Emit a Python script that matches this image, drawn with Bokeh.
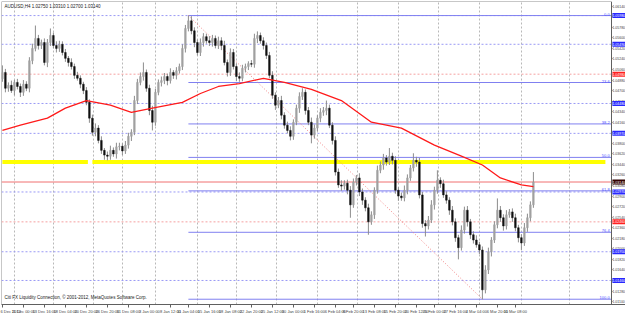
from bokeh.plotting import figure
from bokeh.models import FixedTicker, Label, PrintfTickFormatter
from bokeh.core.properties import value
from bokeh.embed import file_html
from bokeh.resources import INLINE

# ---------------- data (prices in pips above 1.0000) ----------------
symbol = "AUDUSD,H4"
first_open_pips = 490
close_pips = [
    501, 474, 479, 470, 484, 477, 467, 481, 474, 521,
    542, 559, 547, 552, 518, 552, 564, 547, 542, 549,
    535, 525, 518, 511, 496, 491, 481, 470, 450, 423,
    399, 406, 385, 368, 360, 358, 368, 362, 374, 375,
    367, 377, 392, 399, 453, 484, 494, 501, 474, 436,
    416, 467, 484, 487, 494, 487, 501, 496, 504, 511,
    542, 576, 589, 572, 552, 535, 552, 562, 555, 552,
    559, 547, 555, 547, 518, 501, 535, 511, 494, 491,
    508, 511, 516, 515, 559, 564, 555, 547, 530, 496,
    462, 445, 453, 428, 411, 402, 392, 416, 440, 460,
    467, 436, 416, 394, 406, 423, 433, 436, 440, 411,
    385, 331, 309, 307, 312, 300, 275, 314, 321, 297,
    283, 270, 246, 258, 300, 334, 343, 355, 348, 358,
    351, 300, 290, 287, 300, 321, 338, 351, 348, 292,
    243, 239, 249, 275, 300, 317, 311, 292, 283, 266,
    246, 219, 202, 232, 266, 246, 224, 215, 207, 198,
    130, 164, 195, 215, 241, 266, 253, 239, 258, 263,
    253, 236, 219, 210, 236, 253, 275, 314,
]
upper_wick = [
    12, 6, 5, 8, 4, 6, 5, 7, 5, 6,
    8, 22, 6, 5, 7, 6, 12, 5, 7, 6,
    5, 6, 4, 7, 5, 6, 5, 4, 6, 5,
    6, 8, 5, 7, 4, 6, 8, 5, 7, 6,
    5, 7, 6, 5, 8, 6, 7, 17, 5, 6,
    8, 6, 5, 7, 6, 5, 7, 4, 6, 5,
    7, 6, 9, 8, 6, 5, 7, 6, 5, 8,
    6, 5, 7, 6, 8, 5, 7, 6, 5, 7,
    6, 5, 4, 6, 8, 7, 5, 6, 5, 6,
    7, 5, 6, 8, 5, 6, 7, 5, 6, 7,
    7, 5, 6, 8, 6, 5, 7, 6, 13, 6,
    5, 7, 6, 8, 5, 6, 7, 6, 5, 8,
    6, 5, 7, 6, 5, 8, 6, 7, 5, 14,
    6, 7, 5, 6, 8, 6, 5, 12, 6, 7,
    5, 6, 7, 8, 6, 17, 5, 7, 6, 5,
    7, 6, 5, 8, 6, 7, 5, 6, 8, 5,
    6, 8, 7, 5, 6, 20, 7, 6, 8, 5,
    6, 7, 5, 6, 8, 7, 6, 17,
]
lower_wick = [
    5, 7, 6, 4, 8, 5, 8, 6, 5, 7,
    6, 5, 7, 6, 5, 8, 6, 5, 7, 6,
    5, 6, 7, 5, 6, 4, 7, 6, 5, 8,
    6, 7, 5, 6, 8, 7, 6, 5, 8, 6,
    7, 5, 6, 8, 5, 6, 5, 7, 6, 8,
    14, 6, 5, 7, 6, 8, 5, 6, 7, 5,
    6, 7, 5, 6, 8, 5, 6, 7, 5, 6,
    7, 5, 6, 8, 5, 7, 6, 5, 8, 6,
    5, 7, 6, 5, 6, 8, 5, 7, 6, 5,
    6, 8, 5, 7, 6, 5, 7, 6, 5, 8,
    6, 7, 5, 14, 6, 5, 7, 6, 8, 5,
    7, 6, 5, 8, 6, 7, 22, 5, 6, 7,
    8, 6, 22, 5, 7, 6, 5, 8, 6, 5,
    7, 6, 8, 5, 6, 7, 5, 6, 8, 6,
    7, 18, 6, 5, 8, 6, 7, 5, 6, 8,
    6, 7, 20, 5, 6, 8, 7, 6, 5, 7,
    16, 6, 7, 8, 5, 6, 7, 8, 6, 5,
    7, 6, 8, 12, 5, 7, 6, 5,
]

# moving average
ma_bars = [0, 6, 15, 21, 28, 36, 43, 50, 60, 66, 72, 79, 87, 94, 103,
           113, 123, 133, 144, 153, 160, 166, 173, 177]
ma_pips = [402, 411, 423, 440, 453, 445, 433, 440, 450, 465, 477, 482, 491, 484, 472,
           453, 416, 406, 377, 358, 343, 321, 309, 306]

# drawn objects
blue_levels_pips = [598, 549, 448, 397, 297, 195, 146]
pink_levels_pips = [498, 246]
yellow_level_pips = 348
yellow_from_bar = [0, 30]
yellow_to_bar = [28.5, 201]
fib_start_bar = 62
fib_end_bar = 160
fib_high_pips = 598
fib_low_pips = 114
fib_ratios = [0.0, 23.6, 38.2, 50.0, 61.8, 76.4, 100.0]

# axes
time_label_bars = [0, 7, 14, 21, 28, 35, 42, 49, 56, 62, 69, 76, 83, 90, 97,
                   104, 111, 117, 124, 131, 138, 144, 151, 158, 165, 171]
time_labels = ["6 Dec 2012", "11 Dec 00:00", "13 Dec 16:00", "18 Dec 04:00", "20 Dec 20:00",
               "26 Dec 20:00", "31 Dec 08:00", "3 Jan 00:00", "8 Jan 12:00", "11 Jan 04:00",
               "15 Jan 16:00", "18 Jan 08:00", "22 Jan 20:00", "25 Jan 12:00", "30 Jan 00:00",
               "1 Feb 16:00", "6 Feb 04:00", "8 Feb 20:00", "13 Feb 08:00", "15 Feb 20:00",
               "20 Feb 12:00", "25 Feb 00:00", "27 Feb 16:00", "4 Mar 04:00", "6 Mar 20:00",
               "11 Mar 08:00"]
grid_bars = [4, 17, 30.5, 40, 51, 65, 78, 91.5, 105, 118.5, 132, 145.5, 159, 173, 189]
price_ticks = [1.0614, 1.0596, 1.0578, 1.0560, 1.0542, 1.0524, 1.0506, 1.0488, 1.0470,
               1.0452, 1.0434, 1.0416, 1.0398, 1.0380, 1.0362, 1.0344, 1.0326, 1.0308,
               1.0290, 1.0272, 1.0254, 1.0236, 1.0218, 1.0200, 1.0182, 1.0164, 1.0146,
               1.0128, 1.0110]
copyright_text = "Citi FX Liquidity Connection, \u00a9 2001-2012, MetaQuotes Software Corp."


def P(v):
    return 1.0 + v / 10000.0


closes = [P(v) for v in close_pips]
opens = [P(first_open_pips)] + closes[:-1]
highs = [max(o, c) + w / 10000.0 for o, c, w in zip(opens, closes, upper_wick)]
lows = [min(o, c) - w / 10000.0 for o, c, w in zip(opens, closes, lower_wick)]
bars = list(range(len(closes)))

X0 = -0.3          # left edge of the chart
AX = 203.0         # position of the price scale (right edge of the chart area)
XE = 207.7         # right edge of the canvas
Y0, Y1 = P(105), P(622)

p = figure(width=625, height=316, x_range=(X0, XE), y_range=(Y0, Y1),
           output_backend="svg", toolbar_location=None,
           y_axis_location="right", x_axis_location="below",
           min_border_left=1, min_border_top=1, min_border_right=0, min_border_bottom=10)
p.background_fill_color = "white"
p.border_fill_color = "white"
p.outline_line_color = None

FONT = "Liberation Sans"
AXFS = "3.5px"

# grid
p.ygrid.visible = False
p.xgrid.ticker = FixedTicker(ticks=grid_bars)
p.xgrid.grid_line_color = "#b8b8b8"
p.xgrid.grid_line_dash = "2 2"
p.xgrid.grid_line_width = 1

# price axis drawn at the chart's right edge
p.yaxis.fixed_location = AX
p.yaxis.ticker = FixedTicker(ticks=price_ticks)
p.yaxis.formatter = PrintfTickFormatter(format="%.5f")
p.yaxis.major_label_text_font_size = AXFS
p.yaxis.major_label_text_font = FONT
p.yaxis.major_label_standoff = 0
p.yaxis.major_tick_out = 1
p.yaxis.major_tick_in = 0
p.yaxis.minor_tick_out = 0
p.yaxis.minor_tick_in = 0
p.yaxis.axis_line_color = "#606060"
p.yaxis.major_tick_line_color = "#606060"

p.xaxis.ticker = FixedTicker(ticks=time_label_bars)
p.xaxis.major_label_overrides = {b: t for b, t in zip(time_label_bars, time_labels)}
p.xaxis.major_label_text_font_size = "4px"
p.xaxis.major_label_text_font = FONT
p.xaxis.major_label_text_align = "left"
p.xaxis.major_label_standoff = 1
p.xaxis.major_tick_out = 3
p.xaxis.major_tick_in = 0
p.xaxis.minor_tick_out = 0
p.xaxis.minor_tick_in = 0
p.xaxis.axis_line_color = "#606060"
p.xaxis.major_tick_line_color = "#606060"

# top and left borders of the chart
p.segment(x0=[X0, X0], y0=[Y1, Y0], x1=[AX, X0], y1=[Y1, Y1], line_color="#909090", line_width=1)

# horizontal objects
n_b = len(blue_levels_pips)
p.segment(x0=[X0] * n_b, y0=[P(v) for v in blue_levels_pips], x1=[AX] * n_b,
          y1=[P(v) for v in blue_levels_pips], line_color="#9a9af5", line_dash="2 2", line_width=1)
n_p = len(pink_levels_pips)
p.segment(x0=[X0] * n_p, y0=[P(v) for v in pink_levels_pips], x1=[AX] * n_p,
          y1=[P(v) for v in pink_levels_pips], line_color="#f5a0a0", line_dash="2 2", line_width=1)

# yellow band
p.segment(x0=yellow_from_bar, y0=[P(yellow_level_pips)] * len(yellow_from_bar),
          x1=yellow_to_bar, y1=[P(yellow_level_pips)] * len(yellow_from_bar),
          line_color="#ffff00", line_width=4)

# fibonacci
fib_hi, fib_lo = P(fib_high_pips), P(fib_low_pips)
fib_levels = [fib_hi - r / 100.0 * (fib_hi - fib_lo) for r in fib_ratios]
p.segment(x0=[fib_start_bar] * len(fib_levels), y0=fib_levels,
          x1=[AX] * len(fib_levels), y1=fib_levels,
          line_color="#8080f0", line_width=1)
p.segment(x0=[fib_start_bar], y0=[fib_hi], x1=[fib_end_bar], y1=[fib_lo],
          line_color="#f08080", line_dash="1 2", line_width=1)
p.text(x=[AX - 0.6] * len(fib_levels), y=fib_levels,
       text=["%.1f" % r for r in fib_ratios], text_align="right", text_baseline="bottom",
       text_font=value(FONT), text_font_size="4px", text_color="#5050ff")

# bid line
p.segment(x0=[X0], y0=[closes[-1]], x1=[AX], y1=[closes[-1]], line_color="#f07070", line_width=1)

# candles
p.segment(x0=bars, y0=highs, x1=bars, y1=lows, line_color="#8c8c8c", line_width=1)
bull = [i for i in bars if closes[i] >= opens[i]]
bear = [i for i in bars if closes[i] < opens[i]]
p.vbar(x=bull, bottom=[opens[i] for i in bull], top=[closes[i] for i in bull],
       width=0.55, fill_color="#a0a0a0", line_color="#a0a0a0", line_width=0.5)
p.vbar(x=bear, bottom=[closes[i] for i in bear], top=[opens[i] for i in bear],
       width=0.55, fill_color="#111111", line_color="#111111", line_width=0.5)

# moving average
p.line(x=ma_bars, y=[P(v) for v in ma_pips], line_color="#ff1a1a", line_width=1.3)

# price tags on the axis
TAGFS = "3.5px"
for v in blue_levels_pips:
    p.add_layout(Label(x=AX, y=P(v), x_offset=1, text="%.5f" % P(v), text_font=FONT,
                       text_font_size=TAGFS, text_color="white", text_baseline="middle",
                       background_fill_color="#2828ff", padding=(0, 1)))
for v in pink_levels_pips:
    p.add_layout(Label(x=AX, y=P(v), x_offset=1, text="%.5f" % P(v), text_font=FONT,
                       text_font_size=TAGFS, text_color="white", text_baseline="middle",
                       background_fill_color="#ff2020", padding=(0, 1)))
p.add_layout(Label(x=AX, y=closes[-1], x_offset=1, text="%.5f" % closes[-1], text_font=FONT,
                   text_font_size=TAGFS, text_color="white", text_baseline="middle",
                   background_fill_color="#300000", padding=(0, 1)))

# title and copyright
title = "%s  %.5f %.5f %.5f %.5f" % (symbol, opens[-1], highs[-1], lows[-1], closes[-1])
p.add_layout(Label(x=X0, y=Y1, x_offset=3, y_offset=-2, text=title, text_font=FONT,
                   text_font_size="4.5px", text_color="#202020", text_baseline="top"))
p.add_layout(Label(x=X0, y=Y0, x_offset=3, y_offset=5, text=copyright_text, text_font=FONT,
                   text_font_size="4.5px", text_color="#202020", text_baseline="bottom"))

open("out.html", "w").write(file_html(p, INLINE))
